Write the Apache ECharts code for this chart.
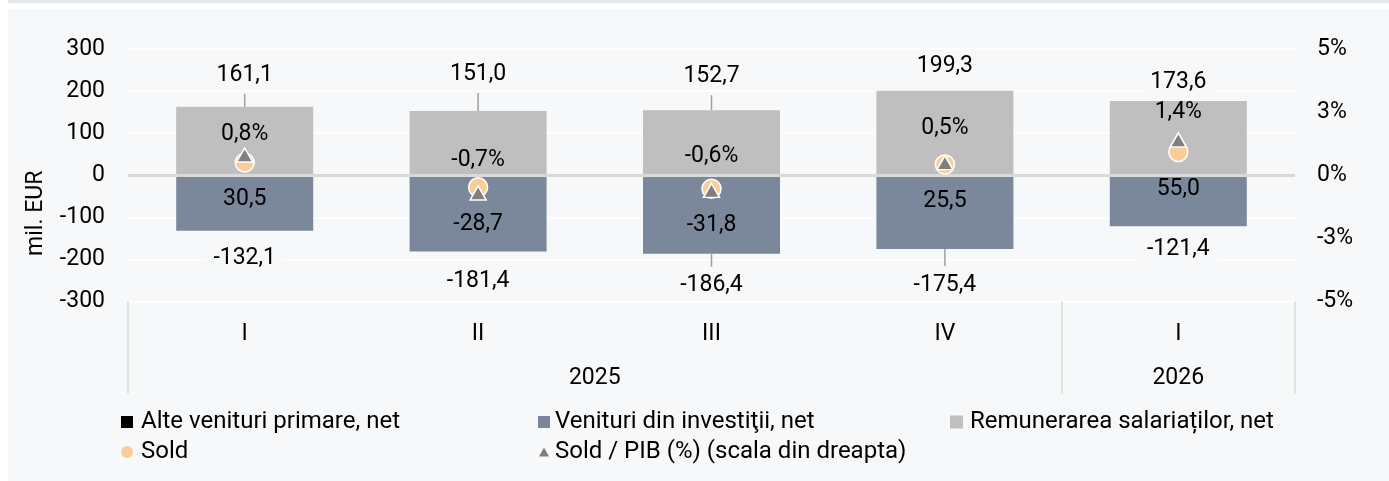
<!DOCTYPE html>
<html>
<head>
<meta charset="utf-8">
<script src="https://cdn.jsdelivr.net/npm/echarts@6/dist/echarts.min.js"></script>
<style>
  html, body { margin: 0; padding: 0; background: #ffffff; }
  #strip { position: absolute; left: 8px; top: 0; width: 1381px; height: 3px; background: #e3e7ee; }
  #panel { position: absolute; left: 8px; top: 9px; width: 1381px; height: 472px; background: #f7f8fa; }
  #chart { position: absolute; left: 0; top: 0; width: 1389px; height: 481px; }
</style>
</head>
<body>
<div id="strip"></div>
<div id="panel"></div>
<div id="chart"></div>
<script>
// date
const quarters = ['I', 'II', 'III', 'IV', 'I']
const years = ['2025', '2026']
const yearCenters = [2, 4.5]
const yearBounds = [0, 4, 5]
const alteVenituri = [1.5, 1.7, 1.9, 1.6, 2.8]
const venituriInvestitii = [-132.1, -181.4, -186.4, -175.4, -121.4]
const remunerare = [161.1, 151.0, 152.7, 199.3, 173.6]
const sold = [30.5, -28.7, -31.8, 25.5, 55.0]
const soldPib = [0.8, -0.7, -0.6, 0.5, 1.4]

// asezarea etichetelor (ca in Excel, mutate de mana)
const topDist = [32, 37, 34, 24, 19]
const topLeader = [true, true, true, false, false]
const bottomDist = [27, 30, 32, 36, 23]
const bottomLeader = [false, false, true, true, false]
const pibDy = [-21, -33, -34, -34, -28]

const FONT = 'Roboto'
const BG = '#f7f8fa'
const fmt = (v) => v.toFixed(1).replace('.', ',')

function outerLabel(text, dist, leader, pos) {
  if (!leader) {
    return {
      show: true, position: pos, distance: dist - 13, formatter: text,
      fontSize: 23, fontFamily: FONT, color: '#000', lineHeight: 26,
      backgroundColor: BG, padding: [0, 8]
    }
  }
  const L = dist - 19
  return {
    show: true, position: pos, distance: 0,
    formatter: pos === 'top' ? '{v|' + text + '}\n{l|}' : '{l|}\n{v|' + text + '}',
    rich: {
      v: { fontSize: 23, fontFamily: FONT, color: '#000', lineHeight: 38, backgroundColor: BG, padding: [0, 8], align: 'center' },
      l: { width: 1.5, height: L, lineHeight: L, backgroundColor: '#a0a0a0', align: 'center' }
    }
  }
}

const legendText = { fontSize: 24, color: '#000', lineHeight: 24 }

const option = {
  animation: false,
  textStyle: { fontFamily: FONT },
  grid: { left: 128, right: 94, top: 49, bottom: 179.5, outerBoundsMode: 'none' },
  legend: [
    {
      left: 121, top: 410, orient: 'vertical', itemGap: 6, itemWidth: 12, itemHeight: 12, padding: 0,
      selectedMode: false, itemStyle: { borderWidth: 0 },
      textStyle: { ...legendText, padding: [0, 0, 0, 3] },
      data: [{ name: 'Alte venituri primare, net', icon: 'rect' }, { name: 'Sold', icon: 'circle' }]
    },
    {
      left: 538, top: 410, orient: 'vertical', itemWidth: 12, itemHeight: 12, padding: 0,
      selectedMode: false, itemStyle: { borderWidth: 0 },
      textStyle: { ...legendText },
      data: [{ name: 'Venituri din investiţii, net', icon: 'rect' }]
    },
    {
      left: 539, top: 440, orient: 'vertical', itemWidth: 10, itemHeight: 9, padding: 0,
      selectedMode: false, itemStyle: { borderWidth: 0 },
      textStyle: { ...legendText, padding: [0, 0, 0, 1] },
      data: [{ name: 'Sold / PIB (%) (scala din dreapta)', icon: 'triangle' }]
    },
    {
      left: 950, top: 410, orient: 'vertical', itemWidth: 13, itemHeight: 13, padding: 0,
      selectedMode: false, itemStyle: { borderWidth: 0 },
      textStyle: { ...legendText, padding: [0, 0, 0, 2] },
      data: [{ name: 'Remunerarea salariaților, net', icon: 'rect' }]
    }
  ],
  xAxis: [
    {
      type: 'category', data: quarters, position: 'bottom',
      axisLine: { show: false, onZero: false }, axisTick: { show: false }, splitLine: { show: false },
      axisLabel: { fontSize: 23, color: '#000', margin: 21 }
    },
    {
      type: 'value', min: 0, max: 5, position: 'bottom', offset: 0,
      axisLine: { show: false, onZero: false }, splitLine: { show: false },
      axisTick: { show: true, inside: false, customValues: yearBounds, length: 92, lineStyle: { color: '#d9d9d9', width: 1.5 } },
      axisLabel: {
        customValues: yearCenters, fontSize: 23, color: '#000', margin: 65,
        formatter: (v) => years[yearCenters.indexOf(v)]
      }
    }
  ],
  yAxis: [
    {
      type: 'value', min: -300, max: 300, interval: 100,
      name: 'mil. EUR', nameLocation: 'middle', nameRotate: 90, nameGap: 80,
      nameTextStyle: { fontSize: 23, color: '#000', padding: [0, 76, 0, 0] },
      axisLine: { show: false }, axisTick: { show: false },
      axisLabel: { fontSize: 23, color: '#000', margin: 23 },
      splitLine: { lineStyle: { color: '#ffffff', width: 1.5 } }
    },
    {
      type: 'value', min: -5, max: 5, interval: 2.5, position: 'right',
      axisLine: { show: false }, axisTick: { show: false }, splitLine: { show: false },
      axisLabel: {
        fontSize: 23, color: '#000', margin: 22,
        formatter: (v) => (v < 0 ? '-' : '') + Math.round(Math.abs(v)) + '%'
      }
    }
  ],
  series: [
    {
      name: 'Alte venituri primare, net', type: 'bar', stack: 'total', barWidth: 137,
      itemStyle: { color: '#000000' },
      data: alteVenituri
    },
    {
      name: 'Venituri din investiţii, net', type: 'bar', stack: 'total', barWidth: 137,
      itemStyle: { color: '#7b889c' },
      data: venituriInvestitii.map((v, i) => ({ value: v, label: outerLabel(fmt(v), bottomDist[i], bottomLeader[i], 'bottom') })),
      markLine: {
        silent: true, symbol: 'none', label: { show: false },
        lineStyle: { color: '#d9d9d9', width: 3, type: 'solid' },
        data: [{ yAxis: 0 }]
      }
    },
    {
      name: 'Remunerarea salariaților, net', type: 'bar', stack: 'total', barWidth: 137,
      itemStyle: { color: '#bfbfbf' },
      data: remunerare.map((v, i) => ({ value: v, label: outerLabel(fmt(v), topDist[i], topLeader[i], 'top') }))
    },
    {
      name: 'Sold', type: 'scatter', z: 10, symbol: 'circle', symbolSize: 19,
      itemStyle: { color: '#f8cd98', borderColor: '#ffffff', borderWidth: 1.5, opacity: 1 },
      label: {
        show: true, position: 'inside', offset: [0, 37], fontSize: 23, color: '#000',
        formatter: (p) => fmt(p.value)
      },
      data: sold
    },
    {
      name: 'Sold / PIB (%) (scala din dreapta)', type: 'scatter', yAxisIndex: 1, z: 11,
      symbol: 'triangle', symbolSize: [16, 14],
      itemStyle: { color: '#7f7f7f', borderColor: '#ffffff', borderWidth: 1.5, opacity: 1 },
      data: soldPib.map((v, i) => ({
        value: v,
        label: {
          show: true, position: 'inside', offset: [0, pibDy[i]], fontSize: 23, color: '#000',
          formatter: fmt(v) + '%'
        }
      }))
    }
  ]
}

const chart = echarts.init(document.getElementById('chart'), null, { renderer: 'canvas' })
chart.setOption(option)
</script>
</body>
</html>
